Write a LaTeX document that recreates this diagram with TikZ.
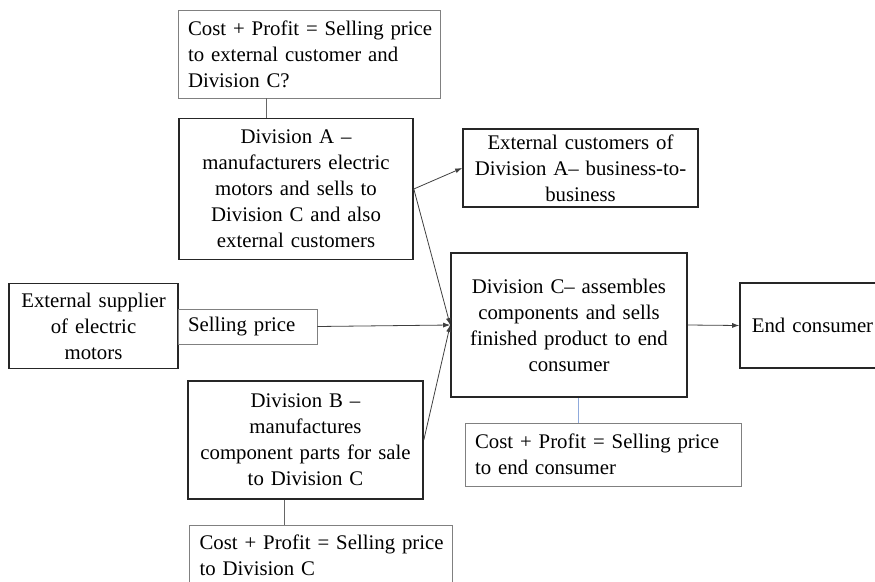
\documentclass[tikz,border=0pt]{standalone}
\usepackage{fontspec}
\setmainfont{Liberation Serif}
\usetikzlibrary{arrows.meta,calc}
\definecolor{bluelink}{RGB}{143,170,220}
\begin{document}
\begin{tikzpicture}[x=1pt,y=-1pt,
  every node/.style={font=\fontsize{20.8}{26}\selectfont, inner ysep=0pt},
  divbox/.style={draw=black!85, line width=1.6pt, align=center, inner xsep=4pt},
  costbox/.style={draw=black!50, line width=0.9pt, align=left, inner xsep=10pt},
  conn/.style={draw=black!60, line width=0.8pt},
  blueline/.style={draw=bluelink, line width=1pt},
  arr/.style={draw=black!75, line width=0.8pt, -{Latex[length=7pt,width=5pt]}},
]
\useasboundingbox (0,0) rectangle (875,581);

\node[costbox, text width=242pt, minimum height=88pt] (costA) at (309,54)
  {\mbox{Cost + Profit = Selling price}\\\mbox{to external customer and}\\\mbox{Division C?}};
\node[divbox, text width=226pt, minimum height=141pt] (divA) at (296,189)
  {Division A –\\manufacturers electric\\motors and sells to\\Division C and also\\external customers};
\node[divbox, text width=227pt, minimum height=78pt] (extC) at (580.5,168)
  {External customers of\\Division A– business-to-\\business};
\node[divbox, text width=228pt, minimum height=144pt] (divC) at (569,325)
  {Division C– assembles\\components and sells\\finished product to end\\consumer};
\node[divbox, text width=137pt, minimum height=85pt] (endC) at (812.5,325.5)
  {End consumer};
\node[divbox, text width=161pt, minimum height=85pt] (sup) at (93.5,326)
  {External supplier\\of electric\\motors};
\node[costbox, text width=119pt, minimum height=35pt] (sell) at (247.5,326.5)
  {Selling price};
\node[divbox, text width=227pt, minimum height=118pt] (divB) at (305.5,440)
  {Division B –\\manufactures\\component parts for sale\\to Division C};
\node[costbox, text width=243pt, minimum height=60pt] (costB) at (321,555)
  {\mbox{Cost + Profit = Selling price}\\\mbox{to Division C}};
\node[costbox, text width=256pt, minimum height=63pt] (costC) at (603,454.5)
  {\mbox{Cost + Profit = Selling price}\\\mbox{to end consumer}};

\coordinate (a1) at ($(costA.south west)+(89,0)$);
\draw[conn] (a1) -- (a1 |- divA.north);
\coordinate (c1) at ($(divC.south)+(9,0)$);
\draw[blueline] (c1) -- (c1 |- costC.north);
\coordinate (b1) at ($(divB.south west)+(97,0)$);
\draw[conn] (b1) -- (b1 |- costB.north);

\draw[arr] (divA.east) -- (extC.west);
\draw[arr] (divA.east) -- (divC.west);
\draw[arr] (sell.east) -- (divC.west);
\draw[arr] (divB.east) -- (divC.west);
\draw[arr] (divC.east) -- (endC.west);
\end{tikzpicture}
\end{document}
